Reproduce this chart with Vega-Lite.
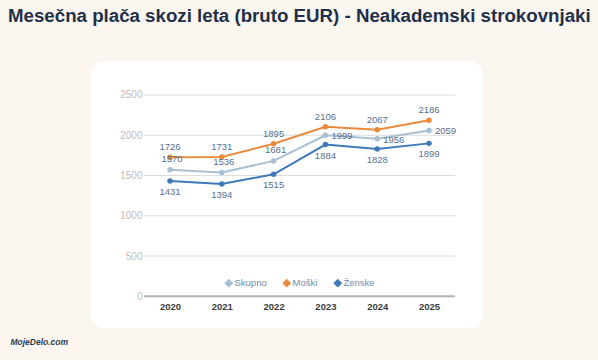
{
  "$schema": "https://vega.github.io/schema/vega-lite/v6.json",
  "width": 392,
  "height": 267,
  "autosize": {"type": "none"},
  "padding": {"left": 91, "top": 61, "right": 115, "bottom": 32},
  "background": "#fbf6f0",
  "title": {
    "text": "Mesečna plača skozi leta (bruto EUR) - Neakademski strokovnjaki",
    "anchor": "start",
    "frame": "group",
    "dx": -83,
    "offset": 20,
    "baseline": "alphabetic",
    "font": "Liberation Sans",
    "fontSize": 18.7,
    "fontWeight": "bold",
    "color": "#1f3048"
  },
  "config": {
    "font": "Liberation Sans",
    "view": {"fill": "#ffffff", "stroke": null, "cornerRadius": 14},
    "axisX": {"offset": -31.7, "domain": false, "ticks": false, "grid": false, "labelColor": "#3a3a3a", "labelFontSize": 9.5, "labelFontWeight": "bold", "labelPadding": 5},
    "axisY": {"offset": -54, "domain": false, "ticks": false, "grid": false, "labelColor": "#bdbdbd", "labelFontSize": 10, "labelPadding": 3}
  },
  "datasets": {
    "salaries": [
      {"year": 2020, "series": "Skupno", "value": 1570},
      {"year": 2021, "series": "Skupno", "value": 1536},
      {"year": 2022, "series": "Skupno", "value": 1681},
      {"year": 2023, "series": "Skupno", "value": 1999},
      {"year": 2024, "series": "Skupno", "value": 1956},
      {"year": 2025, "series": "Skupno", "value": 2059},
      {"year": 2020, "series": "Moški", "value": 1726},
      {"year": 2021, "series": "Moški", "value": 1731},
      {"year": 2022, "series": "Moški", "value": 1895},
      {"year": 2023, "series": "Moški", "value": 2106},
      {"year": 2024, "series": "Moški", "value": 2067},
      {"year": 2025, "series": "Moški", "value": 2186},
      {"year": 2020, "series": "Ženske", "value": 1431},
      {"year": 2021, "series": "Ženske", "value": 1394},
      {"year": 2022, "series": "Ženske", "value": 1515},
      {"year": 2023, "series": "Ženske", "value": 1884},
      {"year": 2024, "series": "Ženske", "value": 1828},
      {"year": 2025, "series": "Ženske", "value": 1899}
    ],
    "grid": [{"g": 0}, {"g": 500}, {"g": 1000}, {"g": 1500}, {"g": 2000}, {"g": 2500}],
    "logo": [{"label": "MojeDelo.com"}]
  },
  "layer": [
    {
      "data": {"name": "grid"},
      "mark": {"type": "rule"},
      "encoding": {
        "y": {"field": "g", "type": "quantitative", "title": null,
              "scale": {"domain": [-394, 2922], "nice": false, "zero": false},
              "axis": {"values": [0, 500, 1000, 1500, 2000, 2500], "format": "d"}},
        "x": {"datum": 2019.5, "type": "quantitative",
              "scale": {"domain": [2018.475, 2026.042], "nice": false, "zero": false},
              "axis": {"values": [2020, 2021, 2022, 2023, 2024, 2025], "format": "d", "title": null}},
        "x2": {"datum": 2025.5},
        "color": {"condition": {"test": "datum.g === 0", "value": "#b3b3b3"}, "value": "#dcdcdc"},
        "strokeWidth": {"condition": {"test": "datum.g === 0", "value": 2}, "value": 1}
      }
    },
    {
      "data": {"name": "salaries"},
      "mark": {"type": "line", "strokeWidth": 2},
      "encoding": {
        "x": {"field": "year", "type": "quantitative", "title": null},
        "y": {"field": "value", "type": "quantitative", "title": null},
        "color": {"field": "series", "type": "nominal",
                  "scale": {"domain": ["Skupno", "Moški", "Ženske"], "range": ["#a9c0d3", "#ec8a3c", "#3f7ab8"]},
                  "legend": {"title": null, "orient": "none", "legendX": 133, "legendY": 217, "direction": "horizontal",
                             "symbolType": "diamond", "symbolSize": 45, "labelColor": "#6f8aa8", "labelFontSize": 9.5,
                             "labelOffset": 1, "columnPadding": 13, "padding": 0}}
      }
    },
    {
      "data": {"name": "salaries"},
      "mark": {"type": "point", "filled": true, "size": 30, "opacity": 1},
      "encoding": {
        "x": {"field": "year", "type": "quantitative", "title": null},
        "y": {"field": "value", "type": "quantitative", "title": null},
        "color": {"field": "series", "type": "nominal",
                  "legend": {"title": null, "orient": "none", "legendX": 133, "legendY": 217, "direction": "horizontal",
                             "symbolType": "diamond", "symbolSize": 45, "labelColor": "#6f8aa8", "labelFontSize": 9.5,
                             "labelOffset": 1, "columnPadding": 13, "padding": 0}}
      }
    },
    {
      "data": {"name": "salaries"},
      "transform": [{"filter": "datum.series === 'Moški'"}],
      "mark": {"type": "text", "dy": -10, "baseline": "middle", "align": "center", "fontSize": 9.5, "color": "#566f8e"},
      "encoding": {
        "x": {"field": "year", "type": "quantitative"},
        "y": {"field": "value", "type": "quantitative"},
        "text": {"field": "value", "type": "quantitative", "format": "d"}
      }
    },
    {
      "data": {"name": "salaries"},
      "transform": [{"filter": "datum.series === 'Ženske'"}],
      "mark": {"type": "text", "dy": 11, "baseline": "middle", "align": "center", "fontSize": 9.5, "color": "#566f8e"},
      "encoding": {
        "x": {"field": "year", "type": "quantitative"},
        "y": {"field": "value", "type": "quantitative"},
        "text": {"field": "value", "type": "quantitative", "format": "d"}
      }
    },
    {
      "data": {"name": "salaries"},
      "transform": [{"filter": "datum.series === 'Skupno' && datum.year <= 2022"}],
      "mark": {"type": "text", "dy": -10.5, "dx": 2, "baseline": "middle", "align": "center", "fontSize": 9.5, "color": "#566f8e"},
      "encoding": {
        "x": {"field": "year", "type": "quantitative"},
        "y": {"field": "value", "type": "quantitative"},
        "text": {"field": "value", "type": "quantitative", "format": "d"}
      }
    },
    {
      "data": {"name": "salaries"},
      "transform": [{"filter": "datum.series === 'Skupno' && datum.year >= 2023"}],
      "mark": {"type": "text", "dy": 1, "dx": 6, "baseline": "middle", "align": "left", "fontSize": 9.5, "color": "#566f8e"},
      "encoding": {
        "x": {"field": "year", "type": "quantitative"},
        "y": {"field": "value", "type": "quantitative"},
        "text": {"field": "value", "type": "quantitative", "format": "d"}
      }
    },
    {
      "data": {"name": "logo"},
      "mark": {"type": "text", "align": "left", "baseline": "middle", "fontSize": 8.5, "fontStyle": "italic", "fontWeight": "bold", "color": "#2a3a50"},
      "encoding": {
        "x": {"datum": 2016.92, "type": "quantitative"},
        "y": {"datum": -568, "type": "quantitative"},
        "text": {"field": "label"}
      }
    }
  ]
}
